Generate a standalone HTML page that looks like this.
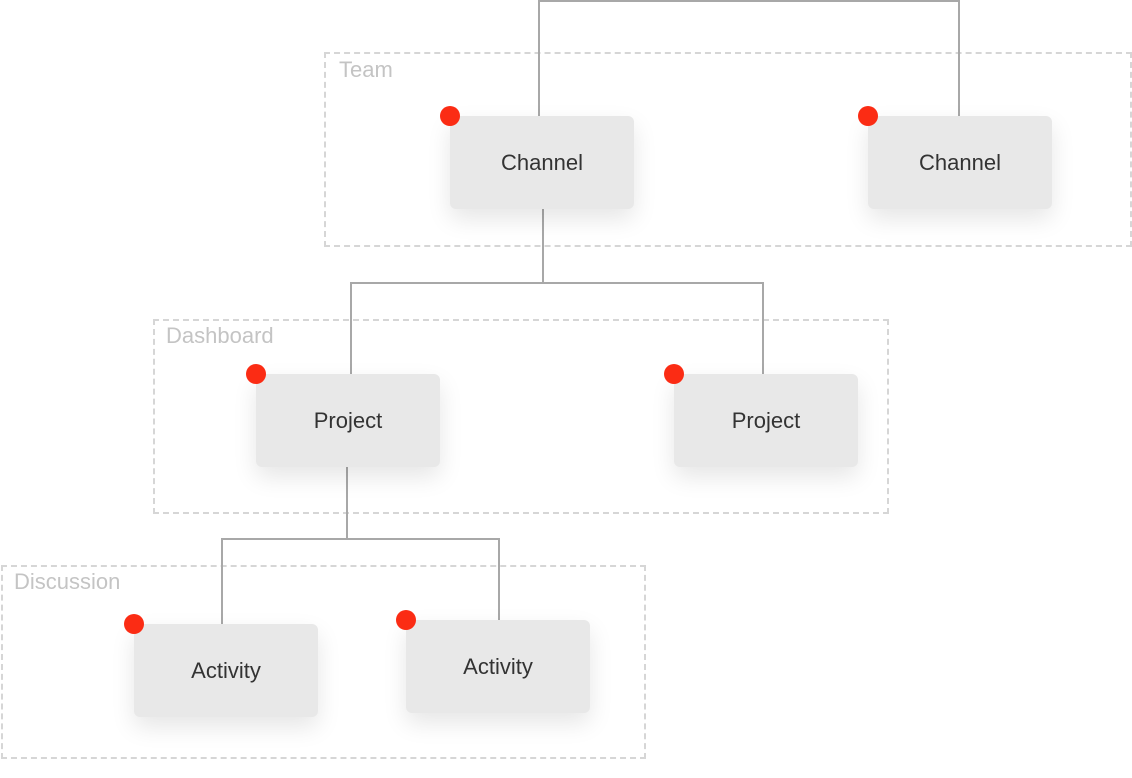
<!DOCTYPE html>
<html><head><meta charset="utf-8"><style>
html,body{margin:0;padding:0;background:#fff;}
body{width:1132px;height:778px;position:relative;overflow:hidden;font-family:"Liberation Sans",sans-serif;}
.grp{position:absolute;border:2px dashed #d6d6d6;box-sizing:border-box;}
.glab{position:absolute;color:#c4c4c4;font-size:22px;}
.node{position:absolute;width:184px;height:93px;background:#e8e8e8;border-radius:6px;box-shadow:0 10px 24px rgba(0,0,0,0.10);display:flex;align-items:center;justify-content:center;color:#333;font-size:22px;}
.dot{position:absolute;width:20px;height:20px;border-radius:50%;background:#fb2c14;}
svg{position:absolute;left:0;top:0;}
</style></head><body>
<div class="grp" style="left:324px;top:52px;width:808px;height:195px;"></div>
<div class="glab" style="left:339px;top:57px;">Team</div>
<div class="grp" style="left:153px;top:319px;width:736px;height:195px;"></div>
<div class="glab" style="left:166px;top:323px;">Dashboard</div>
<div class="grp" style="left:1px;top:565px;width:645px;height:194px;"></div>
<div class="glab" style="left:14px;top:569px;">Discussion</div>
<svg width="1132" height="778"><g fill="none" stroke="#a8a8a8" stroke-width="2">
<polyline points="539,117 539,1 959,1 959,117"/>
<polyline points="543,207 543,283"/>
<polyline points="351,374 351,283 763,283 763,374"/>
<polyline points="347,466 347,539"/>
<polyline points="222,624 222,539 499,539 499,620"/>
</g></svg>
<div class="node" style="left:450px;top:116px;">Channel</div>
<div class="node" style="left:868px;top:116px;">Channel</div>
<div class="node" style="left:256px;top:374px;">Project</div>
<div class="node" style="left:674px;top:374px;">Project</div>
<div class="node" style="left:134px;top:624px;">Activity</div>
<div class="node" style="left:406px;top:620px;">Activity</div>
<div class="dot" style="left:440px;top:106px;"></div>
<div class="dot" style="left:858px;top:106px;"></div>
<div class="dot" style="left:246px;top:364px;"></div>
<div class="dot" style="left:664px;top:364px;"></div>
<div class="dot" style="left:124px;top:614px;"></div>
<div class="dot" style="left:396px;top:610px;"></div>
</body></html>
